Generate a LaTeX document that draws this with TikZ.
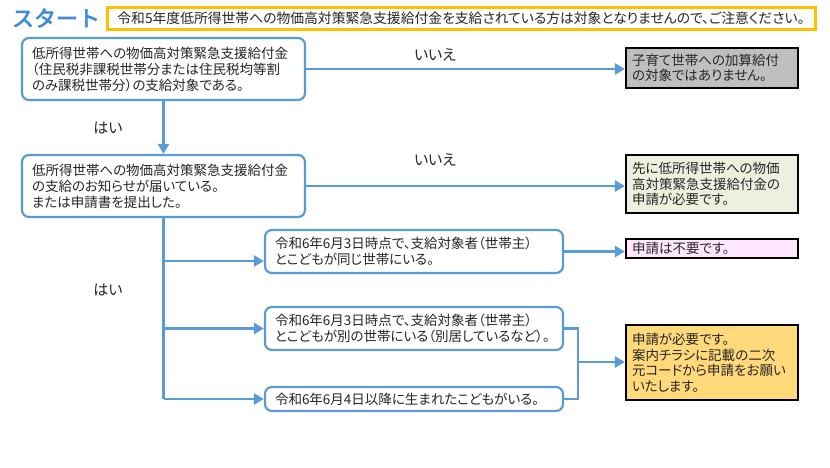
\documentclass[tikz,border=0pt]{standalone}
\usepackage{fontspec}
\setmainfont{Noto Sans CJK JP}[RawFeature=+palt]
\newfontfamily\startfont{Noto Sans CJK JP}[FakeBold=3]
\usetikzlibrary{arrows.meta}
\definecolor{lblue}{HTML}{5B9BD5}
\definecolor{startblue}{HTML}{3D8BD9}
\definecolor{noteorange}{HTML}{FFC000}
\definecolor{fgray}{HTML}{BFBFBF}
\definecolor{fgreen}{HTML}{EBF1DE}
\definecolor{fpink}{HTML}{FFE6FF}
\definecolor{fyellow}{HTML}{FFD97A}
\begin{document}
\begin{tikzpicture}[x=1pt,y=-1pt,
  qbox/.style={draw=lblue, line width=2.2pt, rounded corners=7pt, fill=white, align=left,
    inner xsep=10pt, inner ysep=0pt, font=\fontsize{13.5}{16}\selectfont, text=black!85},
  abox/.style={draw=black, line width=2.2pt, align=left, inner xsep=6pt, inner ysep=0pt,
    text width=160pt, font=\fontsize{13.5}{15.5}\selectfont, text=black!85},
  conn/.style={draw=lblue, line width=2.5pt, -{Triangle[length=10pt,width=11pt]}},
  seg/.style={draw=lblue, line width=2.5pt},
  lab/.style={font=\fontsize{15}{18}\selectfont, text=black!85}
]
\useasboundingbox (0,0) rectangle (830,467);

% header
\node[text=startblue, font=\fontsize{22}{22}\startfont] (start) at (56,18) {スタート};
\node[draw=noteorange, line width=3pt, fill=white, minimum width=708pt, minimum height=22pt,
  inner sep=0pt, font=\fontsize{13.8}{15}\selectfont, text=black!85] (note) at (461,18)
  {令和5年度低所得世帯への物価高対策緊急支援給付金を支給されている方は対象となりませんので、ご注意ください。};

% question boxes
\node[qbox, text width=263pt, minimum height=62pt] (b1) at (163.5,69)
  {低所得世帯への物価高対策緊急支援給付金\\（住民税非課税世帯分または住民税均等割\\のみ課税世帯分）の支給対象である。};
\node[qbox, text width=263pt, minimum height=62pt] (b2) at (163.5,186)
  {低所得世帯への物価高対策緊急支援給付金\\の支給のお知らせが届いている。\\または申請書を提出した。};
\node[qbox, text width=278pt, minimum height=43pt] (b3) at (414,251.5)
  {令和6年6月3日時点で、支給対象者（世帯主）\\とこどもが同じ世帯にいる。};
\node[qbox, text width=278pt, minimum height=43pt] (b4) at (414,328.5)
  {令和6年6月3日時点で、支給対象者（世帯主）\\とこどもが別の世帯にいる（別居しているなど）。};
\node[qbox, text width=278pt, minimum height=24pt] (b5) at (414,399)
  {令和6年6月4日以降に生まれたこどもがいる。};

% answer boxes
\node[abox, fill=fgray, minimum height=40pt] (r1) at (712,68)
  {子育て世帯への加算給付\\の対象ではありません。};
\node[abox, fill=fgreen, minimum height=58pt] (r2) at (712,184)
  {先に低所得世帯への物価\\高対策緊急支援給付金の\\申請が必要です。};
\node[abox, fill=fpink, minimum height=19pt] (r3) at (712,248.5)
  {申請は不要です。};
\node[abox, fill=fyellow, minimum height=75pt] (r4) at (712,362.5)
  {申請が必要です。\\案内チラシに記載の二次\\元コードから申請をお願い\\いたします。};

% labels
\node[lab] (no1) at (435,55) {いいえ};
\node[lab] (no2) at (435,160) {いいえ};
\node[lab] (yes1) at (108,128) {はい};
\node[lab] (yes2) at (108,290) {はい};

% connectors
\draw[conn] (b1.east) -- (b1.east -| r1.west);
\draw[conn] (b1.south) -- (b2.north);
\draw[conn] (b2.east) -- (b2.east -| r2.west);

\coordinate (j3) at (b2.south |- 0,261);
\coordinate (j4) at (b2.south |- 0,328.5);
\coordinate (j5) at (b2.south |- 0,399);
\draw[seg] (b2.south) -- (j5);
\draw[conn] (j3) -- (j3 -| b3.west);
\draw[conn] (j4) -- (j4 -| b4.west);
\draw[conn] (j5) -- (j5 -| b5.west);

\draw[conn] (b3.east) -- (b3.east -| r3.west);

\coordinate (m) at (578,362);
\draw[seg] (b4.east) -| (m) |- (b5.east);
\draw[conn] (m) -- (m -| r4.west);
\end{tikzpicture}
\end{document}
